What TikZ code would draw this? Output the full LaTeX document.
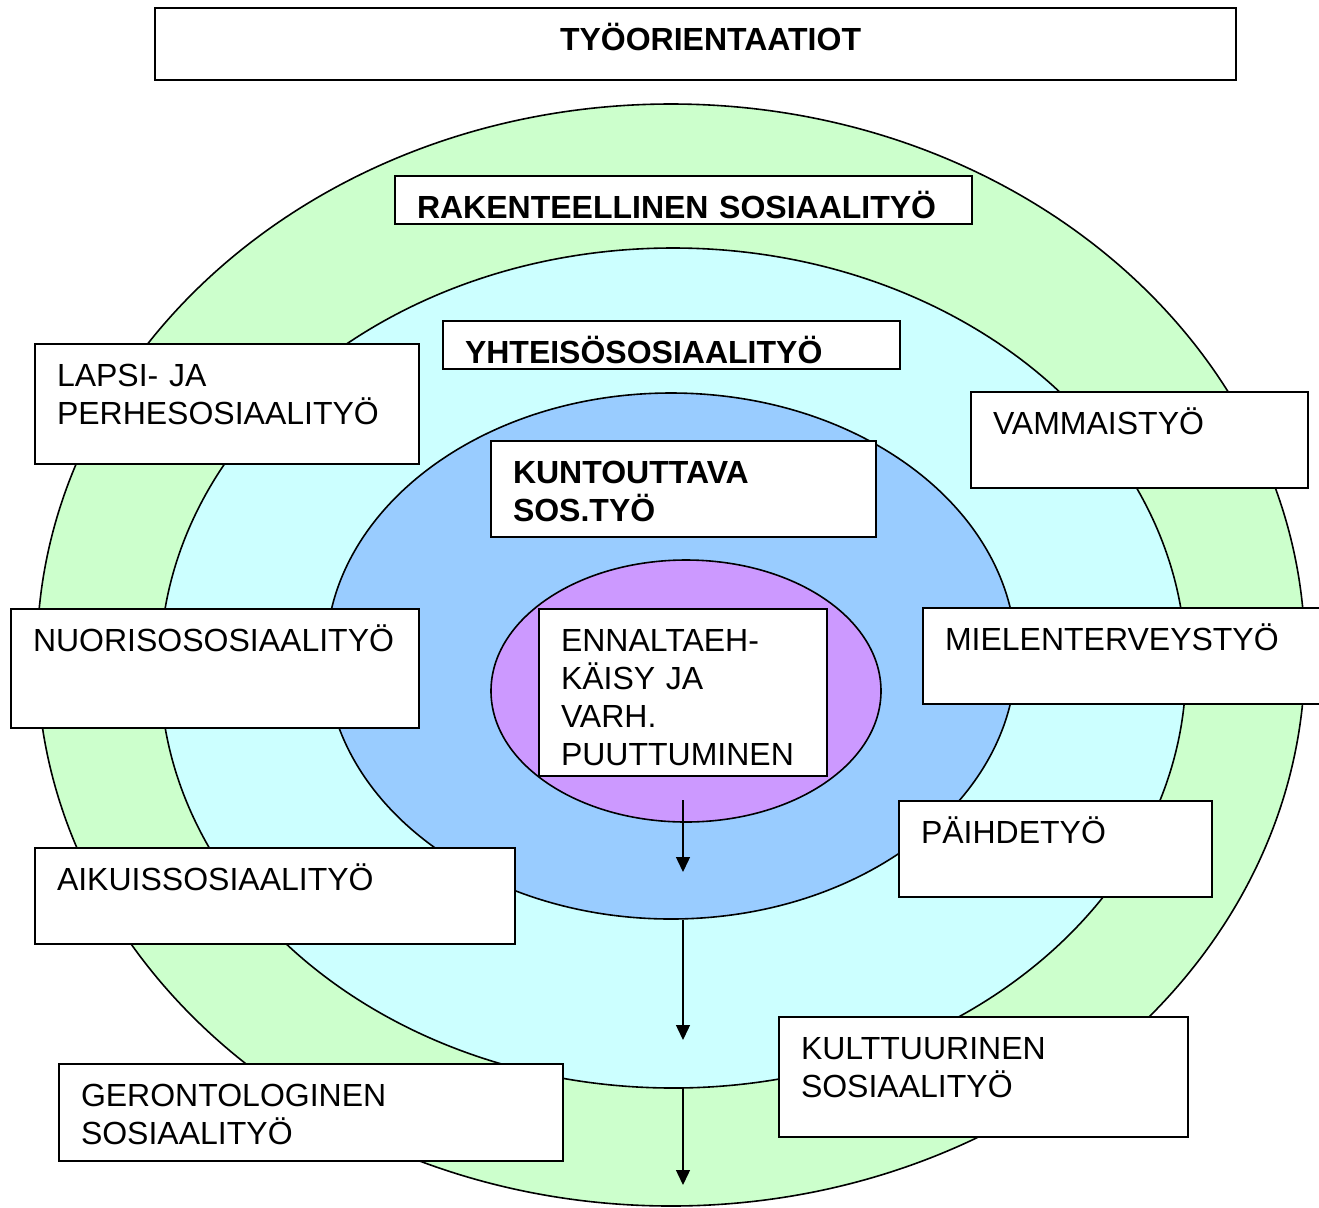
\documentclass[tikz,border=0pt]{standalone}
\usepackage{fontspec}
\setmainfont{Liberation Sans}
\usetikzlibrary{arrows.meta}

\definecolor{ringgreen}{HTML}{CCFFCC}
\definecolor{ringcyan}{HTML}{CCFFFF}
\definecolor{ringblue}{HTML}{99CCFF}
\definecolor{ringviolet}{HTML}{CC99FF}

\tikzset{
  ring/.style={draw, line width=0.8pt},
  box/.style 2 args={draw, fill=white, line width=0.9pt, anchor=north west,
    outer sep=0pt, inner xsep=11pt, inner ysep=0pt, align=left, text height=21pt,
    text width=#1, text depth=#2, font=\fontsize{16}{19}\selectfont},
  boldbox/.style={font=\fontsize{16}{19}\selectfont\bfseries},
  flow/.style={line width=0.7pt, -{Triangle[width=7pt,length=7.5pt]}}
}

\begin{document}
\begin{tikzpicture}[x=0.5pt, y=-0.5pt]
\useasboundingbox (0,0) rectangle (1319,1207);

% rings
\draw[ring, fill=ringgreen]  (671,655) ellipse [x radius=634, y radius=551];
\draw[ring, fill=ringcyan]   (673,668) ellipse [x radius=513, y radius=420];
\draw[ring, fill=ringblue]   (671,656) ellipse [x radius=345, y radius=263];
\draw[ring, fill=ringviolet] (686,691) ellipse [x radius=195, y radius=131];

% arrows down through the rings
\coordinate (t1) at (683,800);  \coordinate (h1) at (683,872);
\coordinate (t2) at (683,920);  \coordinate (h2) at (683,1040);
\coordinate (t3) at (683,1088); \coordinate (h3) at (683,1185);
\draw[flow] (t1) -- (h1);
\draw[flow] (t2) -- (h2);
\draw[flow] (t3) -- (h3);

% boxes
\node[box={518.5pt}{15pt}, boldbox] (title) at (155,8) {\hspace*{191.5pt}TYÖORIENTAATIOT};
\node[box={266.5pt}{3pt}, boldbox] (rak) at (395,176) {RAKENTEELLINEN SOSIAALITYÖ};
\node[box={206.5pt}{3pt}, boldbox] (yht) at (443,321) {YHTEISÖSOSIAALITYÖ};
\node[box={170.5pt}{27pt}, boldbox] (kunt) at (491,441) {KUNTOUTTAVA\\SOS.TYÖ};
\node[box={122pt}{62.5pt}] (enn) at (539,609) {ENNALTAEH-\\KÄISY JA\\VARH.\\PUUTTUMINEN};
\node[box={170pt}{39pt}] (lapsi) at (35,344) {LAPSI- JA\\PERHESOSIAALITYÖ};
\node[box={182pt}{38.5pt}] (nuor) at (11,609) {NUORISOSOSIAALITYÖ};
\node[box={218pt}{27pt}] (aik) at (35,848) {AIKUISSOSIAALITYÖ};
\node[box={230pt}{27.5pt}] (ger) at (59,1064) {GERONTOLOGINEN\\SOSIAALITYÖ};
\node[box={146.5pt}{27pt}] (vamm) at (971,392) {VAMMAISTYÖ};
\node[box={181.5pt}{27pt}] (miel) at (923,608) {MIELENTERVEYSTYÖ};
\node[box={134.5pt}{27pt}] (paih) at (899,801) {PÄIHDETYÖ};
\node[box={182.5pt}{39pt}] (kult) at (779,1017) {KULTTUURINEN\\SOSIAALITYÖ};
\end{tikzpicture}
\end{document}
